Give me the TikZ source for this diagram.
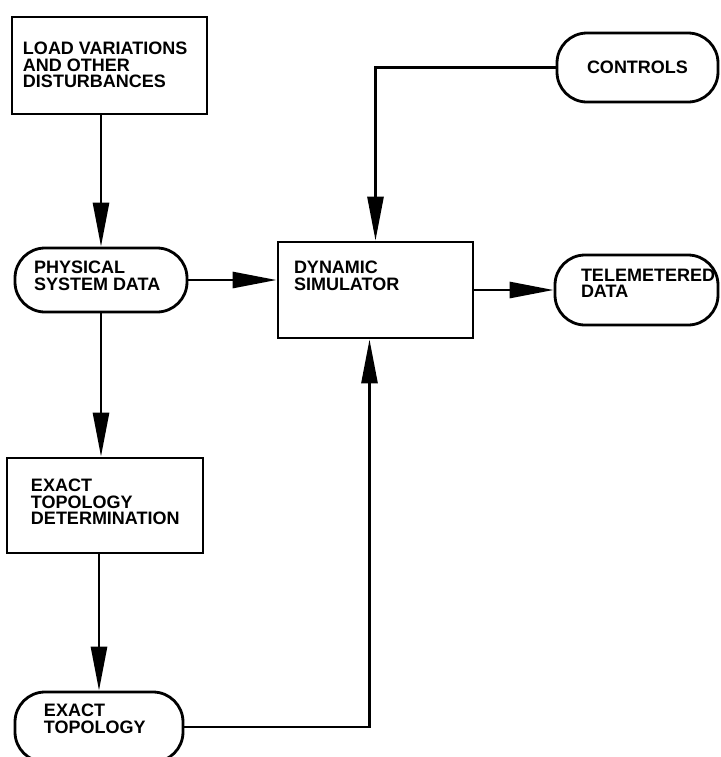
\documentclass[tikz,border=0pt]{standalone}
\usepackage{fontspec}
\setmainfont{Liberation Sans}
\usetikzlibrary{arrows.meta}

\begin{document}
\begin{tikzpicture}[x=0.5pt,y=-0.5pt,
  box/.style={draw, line width=1.4pt, inner sep=0pt},
  oval/.style={box, rounded corners=15pt},
  lbl/.style={anchor=north west, align=left, inner sep=0pt, font=\fontsize{9}{8.3}\selectfont\bfseries},
  flow/.style={line width=1.4pt, -{Triangle[length=22pt,width=8pt]}}]
\useasboundingbox (0,0) rectangle (720,757);
% blocks
\node[box, minimum width=97.5pt, minimum height=48.5pt] (load) at (109.5,65.5) {};
\node[oval, minimum width=86pt, minimum height=32pt] (phys) at (101,280) {};
\node[box, minimum width=97.5pt, minimum height=48pt] (sim) at (375.5,290) {};
\node[oval, minimum width=80.5pt, minimum height=34.5pt, font=\fontsize{9}{8.3}\selectfont\bfseries] (ctrl) at (637.5,67.5) {CONTROLS};
\node[oval, minimum width=81.5pt, minimum height=35pt] (tele) at (636.5,290) {};
\node[box, minimum width=98pt, minimum height=47.5pt] (etd) at (105,505.5) {};
\node[oval, minimum width=84pt, minimum height=35pt] (et) at (99,727) {};
% texts
\node[lbl] (loadtext) at ([shift={(12,26)}]load.north west) {LOAD VARIATIONS\\AND OTHER\\DISTURBANCES};
\node[lbl] (phystext) at ([shift={(20,14)}]phys.north west) {PHYSICAL\\SYSTEM DATA};
\node[lbl] (simtext) at ([shift={(17,20)}]sim.north west) {DYNAMIC\\SIMULATOR};
\node[lbl] (teletext) at ([shift={(27,15)}]tele.north west) {TELEMETERED\\DATA};
\node[lbl] (etdtext) at ([shift={(25,22)}]etd.north west) {EXACT\\TOPOLOGY\\DETERMINATION};
\node[lbl] (ettext) at ([shift={(30,13)}]et.north west) {EXACT\\TOPOLOGY};
% connectors
\draw[flow] (load.south -| phys.north) -- (phys.north);
\draw[flow] (phys.east) -- (phys.east -| sim.west);
\draw[flow] (phys.south) -- (etd.north -| phys.south);
\draw[flow] (etd.south -| et.north) -- (et.north);
\draw[flow] (ctrl.west) -| (sim.north);
\draw[flow] (et.east) -| ([xshift=-3]sim.south);
\draw[flow] (sim.east) -- (tele.west);
\end{tikzpicture}
\end{document}
